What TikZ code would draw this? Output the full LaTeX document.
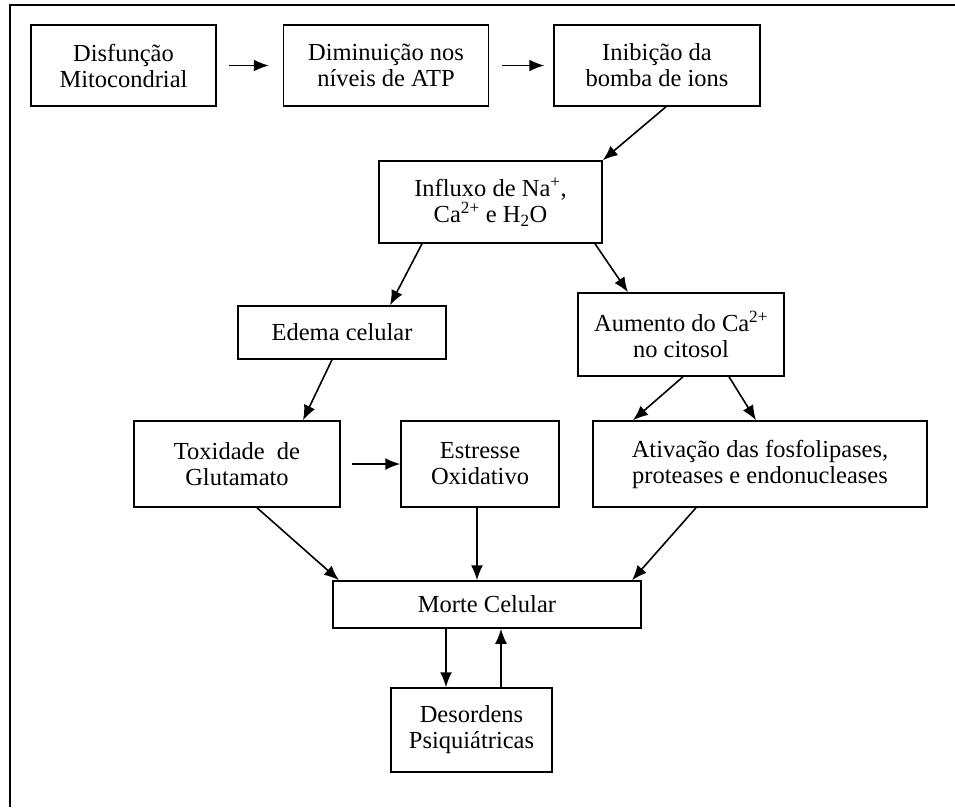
\documentclass[tikz,border=0pt]{standalone}
\usepackage{fontspec}
\setmainfont{Liberation Serif}
\usepackage{tikz}
\usetikzlibrary{positioning,arrows.meta,calc}
\tikzset{
  box/.style={draw, line width=1.5pt, align=center, inner sep=0pt, minimum height=81pt, font=\fontsize{24.5}{26}\selectfont},
  arrow/.style={-{Latex[length=15pt, width=12pt]}, line width=1.6pt},
  frame/.style={line width=2.2pt}
}
\begin{document}
\begin{tikzpicture}[x=1pt, y=-1pt]
    \useasboundingbox (0,0) rectangle (955,807);
    \draw[frame] (10,807) -- (10,5) -- (955,5);
    % top row
    \node[box, minimum width=185pt] (disf) at (123.5,65.5) {Disfunção\\Mitocondrial};
    \node[box, minimum width=205pt, right=66pt of disf] (dimin) {Diminuição nos\\níveis de ATP};
    \node[box, minimum width=206pt, right=64pt of dimin] (inib) {Inibição da\\bomba de ions};
    \node[box, minimum width=223pt, minimum height=82pt] (infl) at (490.5,202) {Influxo de Na\textsuperscript{+},\\Ca\textsuperscript{2+} e H\textsubscript{2}O};
    % two branches
    \node[box, minimum width=208pt, minimum height=53pt] (edema) at (342,332.5) {Edema celular};
    \node[box, minimum width=206pt, minimum height=83pt] (aum) at (681,334.5) {Aumento do Ca\textsuperscript{2+}\\no citosol};
    \node[box, minimum width=206pt, minimum height=86pt] (tox) at (237,464) {Toxidade\ \ de\\Glutamato};
    \node[box, minimum width=158pt, minimum height=86pt] (estr) at (480,464) {Estresse\\Oxidativo};
    \node[box, minimum width=334pt, minimum height=86pt] (ativ) at (760,464) {Ativação das fosfolipases,\\proteases e endonucleases};
    \node[box, minimum width=308pt, minimum height=47pt] (morte) at (487,604.5) {Morte Celular};
    \node[box, minimum width=161pt, minimum height=84pt] (deso) at (471.5,730) {Desordens\\Psiquiátricas};
    % connectors
    \draw[arrow, shorten <=12pt, shorten >=14pt] (disf) -- (dimin);
    \draw[arrow, shorten <=13pt, shorten >=9pt] (dimin) -- (inib);
    \draw[arrow] ($(inib.south)+(9,0)$) -- (infl.north east);
    \draw[arrow] ($(infl.south)+(-68.5,0)$) -- ($(edema.north)+(48,0)$);
    \draw[arrow] ($(infl.south)+(104.5,0)$) -- ($(aum.north)+(-53,0)$);
    \draw[arrow] ($(edema.south)+(-10,0)$) -- ($(tox.north)+(66,0)$);
    \draw[arrow, shorten <=11pt] (tox) -- (estr);
    \draw[arrow] ($(aum.south)+(2,0)$) -- ($(ativ.north)+(-127,0)$);
    \draw[arrow] ($(aum.south)+(48,0)$) -- ($(ativ.north)+(-4,0)$);
    \draw[arrow] ($(tox.south)+(20,0)$) -- ($(morte.north)+(-148,0)$);
    \draw[arrow] ($(estr.south)+(-3,0)$) -- ($(morte.north)+(-10,0)$);
    \draw[arrow] ($(ativ.south)+(-64,0)$) -- ($(morte.north)+(145,0)$);
    \draw[arrow] ($(morte.south)+(-41,0)$) -- ($(deso.north)+(-25.5,0)$);
    \draw[arrow] ($(deso.north)+(29.5,0)$) -- ($(morte.south)+(14,0)$);
  \end{tikzpicture}
\end{document}
